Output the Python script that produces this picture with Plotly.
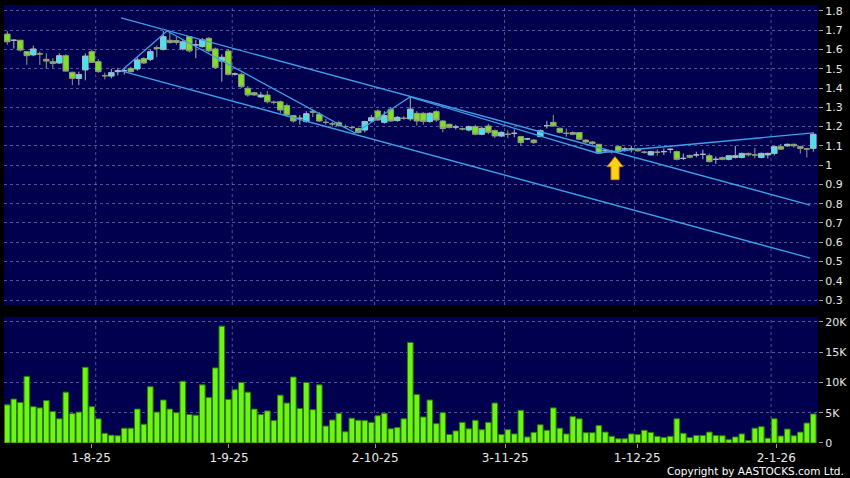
import plotly.graph_objects as go

# ---------------- data (trading-day index 0..124) ----------------
opens = [
    1.68, 1.648, 1.648, 1.589, 1.572, 1.577, 1.549, 1.537, 1.53, 1.568,
    1.482, 1.45, 1.494, 1.589, 1.537, 1.464, 1.462, 1.485, 1.49, 1.502,
    1.499, 1.553, 1.549, 1.61, 1.601, 1.648, 1.647, 1.603, 1.667, 1.624,
    1.615, 1.658, 1.603, 1.54, 1.592, 1.473, 1.471, 1.399, 1.376, 1.354,
    1.364, 1.326, 1.329, 1.309, 1.257, 1.243, 1.226, 1.28, 1.264, 1.222,
    1.214, 1.22, 1.20, 1.195, 1.19, 1.182, 1.229, 1.281, 1.222, 1.29,
    1.231, 1.243, 1.24, 1.269, 1.269, 1.226, 1.278, 1.229, 1.212, 1.198,
    1.188, 1.182, 1.2, 1.16, 1.203, 1.179, 1.151, 1.16, 1.165, 1.148,
    1.136, 1.13, 1.148, 1.205, 1.222, 1.191, 1.165, 1.169, 1.169, 1.13,
    1.12, 1.108, 1.075, 1.07, 1.097, 1.084, 1.084, 1.084, 1.067, 1.053,
    1.067, 1.07, 1.082, 1.07, 1.035, 1.05, 1.053, 1.056, 1.049, 1.03,
    1.039, 1.03, 1.04, 1.04, 1.061, 1.053, 1.04, 1.053, 1.061, 1.096,
    1.10, 1.108, 1.096, 1.084, 1.087]
closes = [
    1.64, 1.648, 1.597, 1.568, 1.603, 1.577, 1.54, 1.528, 1.568, 1.488,
    1.45, 1.47, 1.566, 1.533, 1.485, 1.464, 1.48, 1.49, 1.49, 1.485,
    1.546, 1.53, 1.589, 1.605, 1.667, 1.636, 1.637, 1.64, 1.593, 1.624,
    1.65, 1.593, 1.506, 1.56, 1.471, 1.473, 1.407, 1.364, 1.364, 1.364,
    1.329, 1.326, 1.286, 1.26, 1.229, 1.243, 1.267, 1.275, 1.229, 1.222,
    1.214, 1.205, 1.20, 1.195, 1.169, 1.226, 1.246, 1.234, 1.257, 1.229,
    1.248, 1.243, 1.291, 1.229, 1.226, 1.269, 1.234, 1.19, 1.195, 1.198,
    1.188, 1.2, 1.16, 1.191, 1.17, 1.151, 1.17, 1.16, 1.165, 1.117,
    1.136, 1.117, 1.179, 1.205, 1.203, 1.17, 1.165, 1.16, 1.134, 1.12,
    1.112, 1.062, 1.075, 1.07, 1.07, 1.084, 1.084, 1.074, 1.067, 1.07,
    1.067, 1.07, 1.082, 1.03, 1.035, 1.041, 1.053, 1.056, 1.018, 1.03,
    1.03, 1.049, 1.049, 1.061, 1.053, 1.053, 1.061, 1.061, 1.096, 1.083,
    1.108, 1.10, 1.087, 1.084, 1.16]
highs = [
    1.695, 1.652, 1.65, 1.59, 1.62, 1.59, 1.58, 1.555, 1.58, 1.575,
    1.485, 1.485, 1.58, 1.60, 1.55, 1.48, 1.50, 1.505, 1.505, 1.51,
    1.56, 1.56, 1.60, 1.62, 1.696, 1.69, 1.665, 1.65, 1.67, 1.65,
    1.66, 1.665, 1.61, 1.575, 1.60, 1.48, 1.48, 1.41, 1.38, 1.38,
    1.385, 1.335, 1.335, 1.32, 1.26, 1.26, 1.28, 1.29, 1.275, 1.24,
    1.225, 1.23, 1.21, 1.205, 1.195, 1.23, 1.26, 1.29, 1.28, 1.30,
    1.255, 1.255, 1.35, 1.28, 1.275, 1.275, 1.285, 1.235, 1.215, 1.21,
    1.195, 1.205, 1.21, 1.20, 1.215, 1.185, 1.175, 1.18, 1.185, 1.15,
    1.14, 1.135, 1.185, 1.23, 1.26, 1.195, 1.19, 1.175, 1.17, 1.135,
    1.125, 1.11, 1.085, 1.08, 1.10, 1.095, 1.10, 1.09, 1.075, 1.075,
    1.082, 1.087, 1.087, 1.075, 1.06, 1.055, 1.07, 1.08, 1.06, 1.045,
    1.045, 1.05, 1.10, 1.065, 1.065, 1.09, 1.065, 1.065, 1.10, 1.11,
    1.112, 1.112, 1.10, 1.09, 1.17]
lows = [
    1.625, 1.605, 1.59, 1.52, 1.565, 1.52, 1.50, 1.505, 1.525, 1.485,
    1.415, 1.415, 1.44, 1.53, 1.48, 1.445, 1.45, 1.465, 1.47, 1.48,
    1.49, 1.525, 1.54, 1.56, 1.595, 1.63, 1.625, 1.595, 1.585, 1.555,
    1.61, 1.585, 1.50, 1.433, 1.465, 1.465, 1.40, 1.355, 1.36, 1.35,
    1.32, 1.315, 1.27, 1.25, 1.22, 1.21, 1.22, 1.25, 1.225, 1.21,
    1.20, 1.20, 1.19, 1.185, 1.165, 1.17, 1.225, 1.23, 1.215, 1.225,
    1.225, 1.235, 1.23, 1.205, 1.21, 1.22, 1.225, 1.17, 1.19, 1.185,
    1.18, 1.175, 1.155, 1.155, 1.16, 1.14, 1.145, 1.14, 1.145, 1.10,
    1.13, 1.11, 1.145, 1.19, 1.20, 1.165, 1.148, 1.155, 1.13, 1.115,
    1.105, 1.058, 1.065, 1.06, 1.065, 1.07, 1.066, 1.07, 1.06, 1.05,
    1.05, 1.053, 1.062, 1.025, 1.027, 1.035, 1.04, 1.03, 1.015, 1.006,
    1.025, 1.025, 1.035, 1.035, 1.045, 1.035, 1.035, 1.035, 1.05, 1.08,
    1.095, 1.09, 1.06, 1.04, 1.07]
volumes_k = [
    6.3, 7.25, 6.7, 11.0, 6.0, 5.8, 7.0, 5.2, 4.0, 8.4,
    4.85, 5.1, 12.5, 6.0, 4.0, 1.6, 1.3, 1.2, 2.45, 2.45,
    5.6, 3.1, 9.3, 5.1, 7.1, 5.6, 5.0, 10.2, 4.7, 4.6,
    9.6, 7.5, 12.4, 19.3, 7.2, 8.8, 10.0, 8.4, 5.6, 4.7,
    5.3, 3.7, 7.9, 6.6, 10.9, 5.7, 10.0, 5.5, 9.6, 2.8,
    3.8, 4.9, 1.85, 4.1, 3.75, 3.7, 3.4, 4.5, 4.9, 2.35,
    2.55, 4.0, 16.6, 8.0, 4.3, 7.1, 3.2, 5.0, 1.4, 2.0,
    3.4, 2.35, 3.75, 2.2, 3.4, 6.6, 1.4, 2.2, 1.5, 5.4,
    1.0, 1.75, 3.0, 2.1, 5.8, 2.45, 1.5, 4.35, 4.0, 1.7,
    1.7, 2.9, 1.8, 1.1, 0.7, 0.7, 1.5, 1.4, 2.1, 1.75,
    1.1, 0.9, 1.1, 4.0, 1.6, 0.9, 1.25, 1.25, 1.8, 1.25,
    1.2, 0.55, 1.0, 1.5, 0.4, 2.45, 2.7, 0.8, 4.0, 1.15,
    2.3, 1.2, 1.8, 3.3, 4.8]
day_index = list(range(len(closes)))

# month labels (position = trading-day index)
date_labels = ["1-8-25", "1-9-25", "2-10-25", "3-11-25", "1-12-25", "2-1-26"]
date_label_pos = [12.9, 34.1, 56.6, 76.6, 96.9, 118.3]
date_grid_pos = [13.6, 34.6, 56.5, 76.5, 96.5, 117.5]

price_ticks = [0.3, 0.4, 0.5, 0.6, 0.7, 0.8, 0.9, 1.0, 1.1, 1.2, 1.3, 1.4, 1.5, 1.6, 1.7, 1.8]
price_tick_text = ["0.3", "0.4", "0.5", "0.6", "0.7", "0.8", "0.9", "1", "1.1", "1.2",
                   "1.3", "1.4", "1.5", "1.6", "1.7", "1.8"]
vol_ticks = [0, 5, 10, 15, 20]
vol_tick_text = ["0", "5K", "10K", "15K", "20K"]

# user-drawn trend lines (index, price)
zigzag_x = [17.5, 24.57, 53.5, 61.95, 90.7, 123.96]
zigzag_y = [1.489, 1.696, 1.167, 1.354, 1.063, 1.167]
upper_channel_x = [17.5, 123.5]
upper_channel_y = [1.764, 0.793]
lower_channel_x = [17.5, 123.5]
lower_channel_y = [1.489, 0.518]

marker_arrow_x = 93.5
marker_arrow_y = 1.044

# ---------------- styling ----------------
NAVY = "#00004e"
GRID = "rgba(150,150,205,0.55)"
TXT = "#e8e8e8"
LINE = "#3f9fe6"
FONT = "DejaVu Sans, Verdana, sans-serif"

fig = go.Figure()

fig.add_trace(go.Candlestick(
    x=day_index, open=opens, high=highs, low=lows, close=closes,
    xaxis="x", yaxis="y",
    increasing=dict(fillcolor="#3fe6f2", line=dict(color="#a9bcc2", width=1)),
    decreasing=dict(fillcolor="#7de021", line=dict(color="#8f9f7c", width=1)),
    whiskerwidth=0, showlegend=False, hoverinfo="skip"))

for xs, ys in [(zigzag_x, zigzag_y), (upper_channel_x, upper_channel_y),
               (lower_channel_x, lower_channel_y)]:
    fig.add_trace(go.Scatter(x=xs, y=ys, mode="lines", xaxis="x", yaxis="y",
                             line=dict(color=LINE, width=1.3),
                             showlegend=False, hoverinfo="skip"))

fig.add_trace(go.Bar(
    x=day_index, y=volumes_k, xaxis="x2", yaxis="y2",
    width=0.86, marker=dict(color="#6cf516", line=dict(color="#2f7a05", width=1)),
    showlegend=False, hoverinfo="skip"))

shapes = []
for g in date_grid_pos:
    for yr in ("y domain", "y2 domain"):
        shapes.append(dict(type="line", xref="x", yref=yr, x0=g, x1=g, y0=0, y1=1,
                           line=dict(color=GRID, width=1, dash="3px,3px"), layer="below"))

# yellow up-arrow marker (pixel-sized, anchored in data coordinates)
shapes.append(dict(
    type="path", xref="x", yref="y", xsizemode="pixel", ysizemode="pixel",
    xanchor=marker_arrow_x, yanchor=marker_arrow_y,
    path="M 0 0 L 8 -10 L 4 -10 L 4 -23 L -4 -23 L -4 -10 L -8 -10 Z",
    fillcolor="#ffd21a", line=dict(color="#d98a00", width=1), layer="above"))

axis_common = dict(showline=False, zeroline=False, color=TXT,
                   tickfont=dict(family=FONT, size=11, color=TXT))

fig.update_layout(
    width=850, height=478,
    margin=dict(l=4, r=32, t=5, b=35),
    paper_bgcolor="black", plot_bgcolor=NAVY,
    font=dict(family=FONT, color=TXT),
    boxgap=0.15, boxgroupgap=0.0,
    shapes=shapes,
    xaxis=dict(domain=[0, 1], anchor="y", range=[-0.51, 124.72],
               showticklabels=False, showgrid=False, ticks="",
               rangeslider=dict(visible=False), zeroline=False, showline=False),
    yaxis=dict(domain=[0.315, 1.0], anchor="x", side="right",
               range=[0.274, 1.831], tickvals=price_ticks, ticktext=price_tick_text,
               showgrid=True, gridcolor=GRID, griddash="3px,3px", gridwidth=1,
               ticks="outside", ticklen=4, tickcolor="#9a9a9a", **axis_common),
    xaxis2=dict(domain=[0, 1], anchor="y2", matches="x", range=[-0.51, 124.72],
                tickvals=date_label_pos, ticktext=date_labels,
                showgrid=False, ticks="outside", ticklen=4, tickcolor="#9a9a9a",
                showline=False, zeroline=False, color=TXT,
                tickfont=dict(family=FONT, size=12, color=TXT)),
    yaxis2=dict(domain=[0, 0.288], anchor="x2", side="right",
                range=[0, 20.83], tickvals=vol_ticks, ticktext=vol_tick_text,
                showgrid=True, gridcolor=GRID, griddash="3px,3px", gridwidth=1,
                ticks="outside", ticklen=4, tickcolor="#9a9a9a", **axis_common),
    annotations=[dict(text="Copyright by AASTOCKS.com Ltd.", xref="paper", yref="paper",
                      x=1.0344, y=-0.064, xanchor="right", yanchor="middle",
                      showarrow=False,
                      font=dict(family=FONT, size=10.5, color="white"))],
)

fig.write_html("out.html", config={"displayModeBar": False},
               post_script="document.body.style.margin='0';document.body.style.background='black';")
